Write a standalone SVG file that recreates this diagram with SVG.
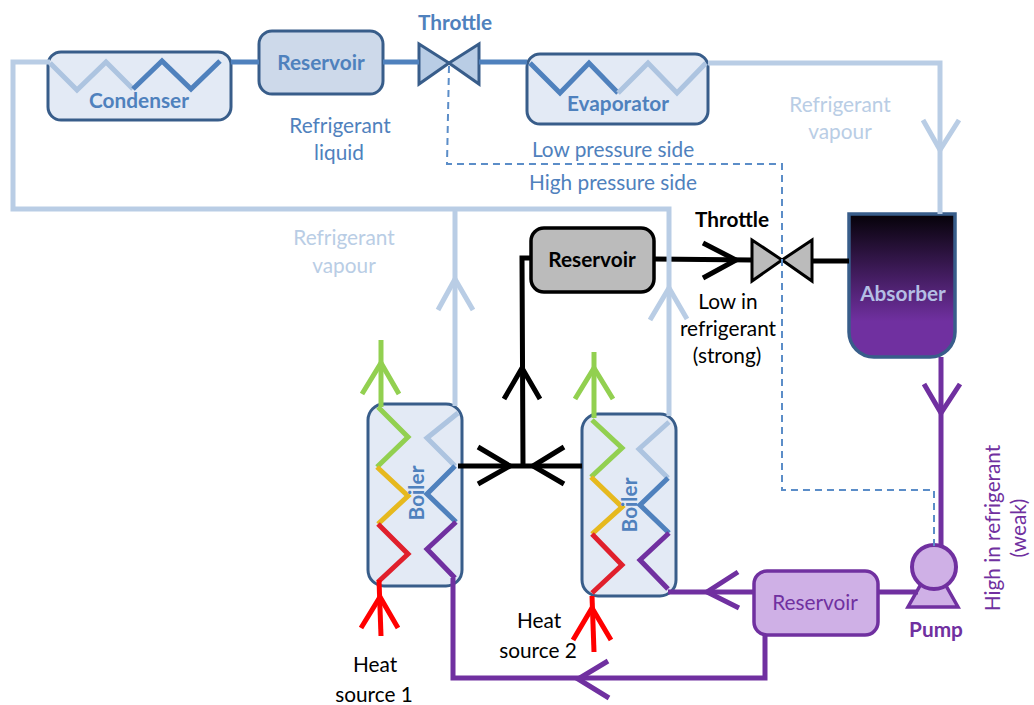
<svg xmlns="http://www.w3.org/2000/svg" width="1034" height="705" viewBox="0 0 1034 705">
<style>
text{font-family:"Lato","Open Sans","Liberation Sans",sans-serif;font-size:20.8px;text-anchor:middle}
.b{font-weight:700}
.tb{fill:#4F81BD}.tl{fill:#B9CDE5}.tk{fill:#000}.tp{fill:#7030A0}
.node{stroke:#385D8A;stroke-width:3;fill:#E3EAF5}
.p{fill:none;stroke-linejoin:miter;stroke-linecap:butt}
.blue{stroke:#4F81BD;stroke-width:5}
.light{stroke:#B9CDE5;stroke-width:5}
.coil{stroke:#ADC4E0;stroke-width:5}
.black{stroke:#000;stroke-width:5}
.purple{stroke:#7030A0;stroke-width:5}
.green{stroke:#92D050;stroke-width:5}
.yellow{stroke:#E6B91E;stroke-width:5}
.coilred{stroke:#E0202C;stroke-width:5}
.red{stroke:#F00;stroke-width:5}
.dash{fill:none;stroke:#5B8DC8;stroke-width:2;stroke-dasharray:7 5}
</style>
<defs>
<linearGradient id="abs" x1="0" y1="0" x2="0" y2="1">
<stop offset="0" stop-color="#050208"/><stop offset="0.75" stop-color="#7030A0"/><stop offset="1" stop-color="#7030A0"/>
</linearGradient>
</defs>

<g id="condenser">
<rect class="node" x="48" y="52" width="183" height="68" rx="13"/>
<polyline class="p coil" points="50,63 77,90 106,62 133,89"/>
<polyline class="p blue" points="133,89 162,61 191,89 220,61"/>
<text class="b tb" x="139" y="108">Condenser</text>
</g>
<g id="reservoir-liquid">
<rect class="node" style="fill:#CDD9EA" x="259" y="31" width="124" height="63" rx="13"/>
<text class="b tb" x="321" y="70">Reservoir</text>
</g>
<g id="throttle-top">
<polygon class="node" style="fill:#B9CDE5" points="419,44 419,84 449,63"/>
<polygon class="node" style="fill:#B9CDE5" points="479,44 479,84 449,63"/>
<text class="b tb" x="455" y="30">Throttle</text>
</g>
<g id="evaporator">
<rect class="node" x="527" y="54" width="181" height="70" rx="13"/>
<polyline class="p blue" points="530,63 560,93 589,63 618,93"/>
<polyline class="p coil" points="618,93 648,63 677,93 706,63"/>
<text class="b tb" x="618" y="111">Evaporator</text>
</g>
<g id="absorber">
<path d="M849,214H955V332a25,25 0 0 1-25,25H874a25,25 0 0 1-25-25Z" fill="url(#abs)" stroke="#385D8A" stroke-width="3.5"/>
<text class="b" style="fill:#B4BEE4" x="903" y="301">Absorber</text>
</g>
<g id="reservoir-strong">
<rect x="531" y="228" width="123" height="64" rx="13" fill="#BBB" stroke="#000" stroke-width="3.5"/>
<text class="b tk" x="592" y="267">Reservoir</text>
</g>
<g id="throttle-strong">
<polygon points="752,240 752,281 782,260" fill="#BBB" stroke="#000" stroke-width="3"/>
<polygon points="812,240 812,281 782,260" fill="#BBB" stroke="#000" stroke-width="3"/>
<text class="b tk" x="732" y="227">Throttle</text>
</g>
<g id="boiler-1">
<rect class="node" x="368" y="404" width="94" height="182" rx="16"/>
<polyline class="p green" points="378,407 408,437 377,467"/>
<polyline class="p yellow" points="377,467 408,496 378,524"/>
<polyline class="p coilred" points="378,524 408,554 378,582"/>
<polyline class="p coil" points="458,413 427,438 455,466"/>
<polyline class="p blue" points="455,466 427,494 456,522"/>
<polyline class="p purple" points="456,522 427,549 455,578"/>
<text class="b tb" transform="translate(424 493) rotate(-90)" x="0" y="0">Boiler</text>
</g>
<g id="boiler-2">
<rect class="node" x="582" y="414" width="94" height="182" rx="16"/>
<polyline class="p green" points="592,420 622,448 591,477"/>
<polyline class="p yellow" points="591,477 622,507 592,534"/>
<polyline class="p coilred" points="592,534 622,565 592,593"/>
<polyline class="p coil" points="669,422 639,449 668,478"/>
<polyline class="p blue" points="668,478 640,505 669,533"/>
<polyline class="p purple" points="669,533 640,560 668,589"/>
<text class="b tb" transform="translate(637 505) rotate(-90)" x="0" y="0">Boiler</text>
</g>
<g id="reservoir-weak">
<rect x="754" y="571" width="124" height="64" rx="13" fill="#CFB0E6" stroke="#7030A0" stroke-width="3.5"/>
<text class="tp" x="815" y="610">Reservoir</text>
</g>
<g id="pump">
<polygon points="908,607 958,607 945,584 921,584" fill="#CFB0E6" stroke="#7030A0" stroke-width="3.5"/>
<circle cx="934" cy="567" r="22" fill="#CFB0E6" stroke="#7030A0" stroke-width="4"/>
<text class="b tp" x="936" y="637">Pump</text>
</g>

<g id="connectors">
<polyline class="dash" points="449,66 447,164 782,164 782,490 934,490 934,546"/>
<polyline class="p blue" points="231,62 259,62"/>
<polyline class="p blue" points="383,62 419,62"/>
<polyline class="p blue" points="479,62 527,62"/>
<polyline class="p black" points="654,259 752,260"/>
<polyline class="p black" points="703,243 736,260 703,278"/>
<polyline class="p black" points="812,261 849,261"/>
<polyline class="p black" points="531,258 522,258 523,466"/>
<polyline class="p black" points="504,399 522,368 540,399"/>
<polyline class="p black" points="458,466 582,466"/>
<polyline class="p black" points="478,447 510,466 478,484"/>
<polyline class="p black" points="564,447 533,466 564,484"/>
<polyline class="p light" points="50,62 13,62 13,209 669,209 669,416"/>
<polyline class="p light" points="455,209 455,406"/>
<polyline class="p light" points="438,310 455,279 473,310"/>
<polyline class="p light" points="650,320 669,288 687,319"/>
<polyline class="p light" points="708,63 940,63 940,214"/>
<polyline class="p light" points="923,120 940,150 959,120"/>
<polyline class="p green" points="381,340 381,407"/>
<polyline class="p green" points="362,394 381,363 399,394"/>
<polyline class="p green" points="594,352 594,418"/>
<polyline class="p green" points="575,399 594,368 613,399"/>
<polyline class="p red" points="379,580 381,636"/>
<polyline class="p red" points="361,628 380,597 398,628"/>
<polyline class="p red" points="592,596 594,652"/>
<polyline class="p red" points="573,640 592,608 611,640"/>
<polyline class="p purple" points="941,357 941,547"/>
<polyline class="p purple" points="924,384 941,413 960,384"/>
<polyline class="p purple" points="878,592 918,592"/>
<polyline class="p purple" points="754,592 668,592"/>
<polyline class="p purple" points="738,572 707,592 739,608"/>
<polyline class="p purple" points="453,578 453,678 765,678 765,635"/>
<polyline class="p purple" points="608,661 578,679 609,698"/>
</g>

<g id="labels">
<text class="tb" x="340" y="133">Refrigerant</text>
<text class="tb" x="339" y="160">liquid</text>
<text class="tl" x="840" y="112">Refrigerant</text>
<text class="tl" x="840" y="139">vapour</text>
<text class="tl" x="344" y="245">Refrigerant</text>
<text class="tl" x="344" y="273">vapour</text>
<text class="tb" x="613" y="157">Low pressure side</text>
<text class="tb" x="613" y="190">High pressure side</text>
<text class="tk" x="728" y="309">Low in</text>
<text class="tk" x="728" y="336">refrigerant</text>
<text class="tk" x="727" y="363">(strong)</text>
<text class="tk" x="375" y="672">Heat</text>
<text class="tk" x="374" y="702">source 1</text>
<text class="tk" x="539" y="628">Heat</text>
<text class="tk" x="538" y="658">source 2</text>
<text class="tp" transform="translate(1000 528) rotate(-90)" x="0" y="0">High in refrigerant</text>
<text class="tp" transform="translate(1026 528) rotate(-90)" x="0" y="0">(weak)</text>
</g>
</svg>
